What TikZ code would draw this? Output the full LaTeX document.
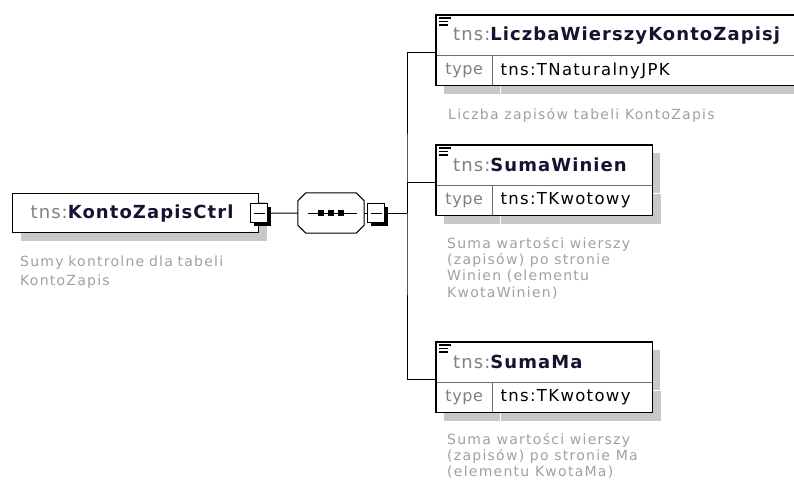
\documentclass[tikz,border=0pt]{standalone}
\usepackage{fontspec}
\setmainfont{DejaVu Sans}
\usetikzlibrary{positioning,shadows,calc}
\definecolor{shadowgray}{RGB}{200,200,200}
\definecolor{prefixgray}{RGB}{128,128,128}
\definecolor{namedark}{RGB}{20,20,50}
\definecolor{notegray}{RGB}{160,160,160}
\definecolor{framegray}{RGB}{110,110,110}
\newcommand{\tnsname}[1]{{\color{prefixgray}tns:}\textbf{\color{namedark}#1}}

\begin{document}
\begin{tikzpicture}[x=1pt,y=-1pt,
    boxshadow/.style={drop shadow={shadow xshift=8pt,shadow yshift=-8pt,opacity=1,fill=shadowgray}},
    elem/.style={draw=framegray,fill=white,anchor=north west,minimum height=40pt,inner xsep=17pt,inner ysep=0pt,align=left,
        font=\fontsize{18}{21}\selectfont\addfontfeatures{LetterSpace=6},boxshadow},
    typekey/.style={draw=framegray,fill=white,anchor=north west,minimum width=56pt,minimum height=30pt,inner sep=0pt,
        font=\fontsize{16}{19}\selectfont\addfontfeatures{LetterSpace=4}\color{prefixgray},boxshadow},
    typeval/.style={draw=framegray,fill=white,anchor=north west,minimum height=30pt,inner xsep=8pt,inner ysep=0pt,align=left,
        font=\fontsize{16.5}{20}\selectfont\addfontfeatures{LetterSpace=8},boxshadow},
    frame/.style={draw,line width=1.3pt},
    note/.style={anchor=north west,inner sep=0pt,align=left,text=notegray,font=\fontsize{14}{16.3}\selectfont\addfontfeatures{LetterSpace=9}},
    btn/.style={draw,fill=white,minimum width=17pt,minimum height=19pt,inner sep=0pt,line width=0.8pt,
        drop shadow={shadow xshift=3pt,shadow yshift=-3pt,opacity=1,fill=black},
        path picture={\draw[line width=1pt] ([xshift=3pt]path picture bounding box.west) -- ([xshift=-3pt]path picture bounding box.east);}},
    conn/.style={draw,line width=1pt},
    icon/.style={line width=1.2pt}]

    \useasboundingbox (0,0) rectangle (794,489);

    % root element
    \node[elem,draw=black,line width=1.3pt,minimum height=39pt,text width=210pt,inner xsep=18pt] (ctrl) at (12,193) {\tnsname{KontoZapisCtrl}};
    \node[note,text width=240pt,font=\fontsize{14}{19}\selectfont\addfontfeatures{LetterSpace=9},below right=22pt and 8pt of ctrl.south west] (ctrlnote) {Sumy kontrolne dla tabeli\\KontoZapis};

    % sequence compositor
    \node[minimum width=66pt,minimum height=40pt] (seq) at (331,213) {};
    \fill[shadowgray,shift={(8,8)}] ($(seq.north west)+(8,0)$) -- ($(seq.north east)+(-8,0)$) -- ($(seq.north east)+(0,8)$) -- ($(seq.south east)+(0,-8)$)
        -- ($(seq.south east)+(-8,0)$) -- ($(seq.south west)+(8,0)$) -- ($(seq.south west)+(0,-8)$) -- ($(seq.north west)+(0,8)$) -- cycle;
    \draw[fill=white,line width=1pt] ($(seq.north west)+(8,0)$) -- ($(seq.north east)+(-8,0)$) -- ($(seq.north east)+(0,8)$) -- ($(seq.south east)+(0,-8)$)
        -- ($(seq.south east)+(-8,0)$) -- ($(seq.south west)+(8,0)$) -- ($(seq.south west)+(0,-8)$) -- ($(seq.north west)+(0,8)$) -- cycle;
    \draw[line width=1pt] ($(seq.west)+(10,0)$) -- ($(seq.east)+(-7,0)$);
    \foreach \dx in {-10,0,10}
        \fill ($(seq.center)+(\dx,0)+(-2.8,-2.8)$) rectangle +(5.6,5.6);

    % children
    \node[elem,text width=343pt] (liczba) at (436,15) {\tnsname{LiczbaWierszyKontoZapisj}};
    \node[typekey] (liczbakey) at (liczba.south west) {type};
    \node[typeval,text width=305pt] (liczbaval) at (liczbakey.north east) {tns:TNaturalnyJPK};
    \draw[frame] (liczba.north west) rectangle (liczbaval.south east);
    \node[note,below right=22pt and 12pt of liczbakey.south west] (liczbanote) {Liczba zapisów tabeli KontoZapis};

    \node[elem,text width=182pt] (winien) at (436,145) {\tnsname{SumaWinien}};
    \node[typekey] (winienkey) at (winien.south west) {type};
    \node[typeval,text width=144pt] (winienval) at (winienkey.north east) {tns:TKwotowy};
    \draw[frame] (winien.north west) rectangle (winienval.south east);
    \node[note,below right=21pt and 11pt of winienkey.south west] (winiennote) {Suma wartości wierszy\\(zapisów) po stronie\\Winien (elementu\\KwotaWinien)};

    \node[elem,text width=182pt] (ma) at (436,342) {\tnsname{SumaMa}};
    \node[typekey] (makey) at (ma.south west) {type};
    \node[typeval,text width=144pt] (maval) at (makey.north east) {tns:TKwotowy};
    \draw[frame] (ma.north west) rectangle (maval.south east);
    \node[note,below right=20pt and 11pt of makey.south west] (manote) {Suma wartości wierszy\\(zapisów) po stronie Ma\\(elementu KwotaMa)};

    \foreach \e in {liczba,winien,ma} {
        \draw[icon] ($(\e.north west)+(3,3)$) -- +(12,0);
        \draw[icon] ($(\e.north west)+(3,6.5)$) -- +(9,0);
        \draw[icon] ($(\e.north west)+(3,10)$) -- +(9,0);
    }

    % connectors
    \coordinate (bus) at (407,213);
    \draw[conn] (ctrl.east) -- (seq.west);
    \draw[conn] (seq.east) -- (bus);
    \draw[conn] ([yshift=3pt]liczba.south west) -| (bus) |- ([yshift=3pt]ma.south west);
    \draw[conn] ([yshift=3pt]winien.south west) -| (bus);

    % collapse buttons
    \node[btn] (ctrlbtn) at (ctrl.east) {};
    \node[btn] (seqbtn) at (376,213) {};
\end{tikzpicture}
\end{document}
